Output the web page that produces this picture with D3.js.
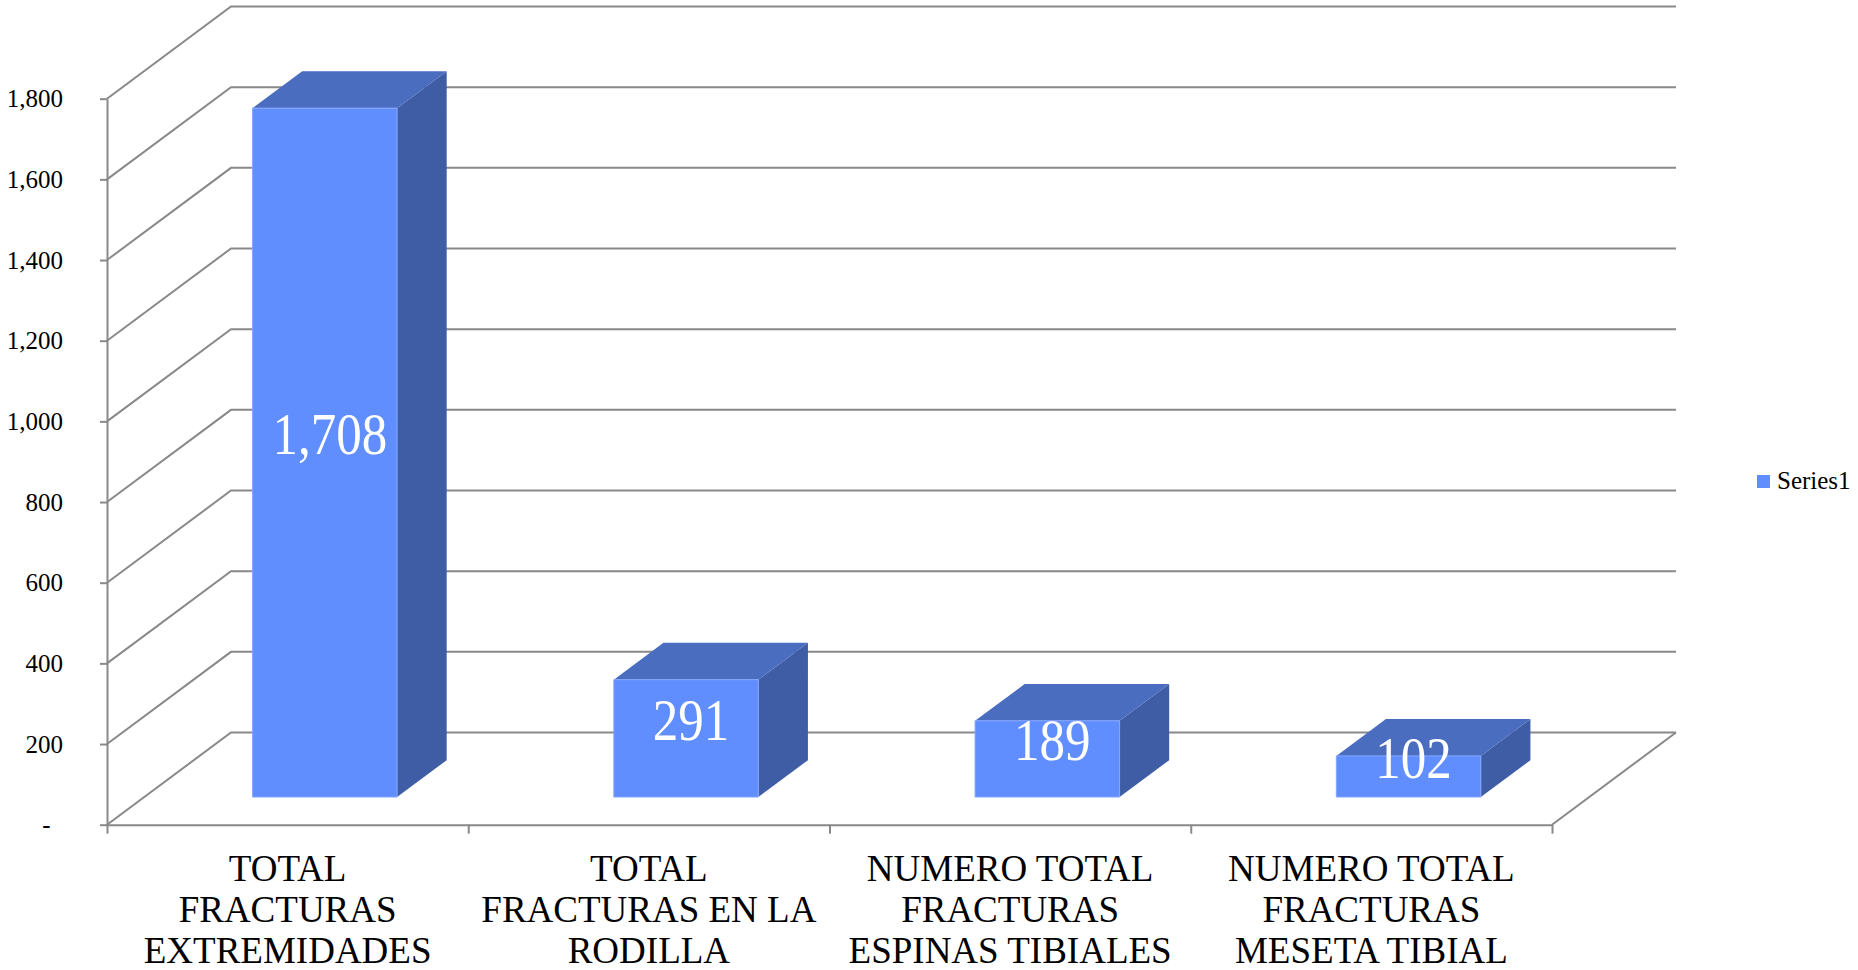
<!DOCTYPE html>
<html>
<head>
<meta charset="utf-8">
<script src="https://cdn.jsdelivr.net/npm/d3@7"></script>
<style>
  html, body { margin: 0; padding: 0; background: #ffffff; }
  svg { display: block; }
  text { font-family: "Liberation Serif", "Times New Roman", serif; }
</style>
</head>
<body>
<svg id="chart" width="1858" height="970"></svg>
<script>
// ---- data ----
const categories = [
  "TOTAL FRACTURAS EXTREMIDADES",
  "TOTAL FRACTURAS EN LA RODILLA",
  "NUMERO TOTAL FRACTURAS ESPINAS TIBIALES",
  "NUMERO TOTAL FRACTURAS MESETA TIBIAL"
];
const categoryLines = [
  ["TOTAL", "FRACTURAS", "EXTREMIDADES"],
  ["TOTAL", "FRACTURAS EN LA", "RODILLA"],
  ["NUMERO TOTAL", "FRACTURAS", "ESPINAS TIBIALES"],
  ["NUMERO TOTAL", "FRACTURAS", "MESETA TIBIAL"]
];
const seriesName = "Series1";
const values = [1708, 291, 189, 102];
const yTicks = [0, 200, 400, 600, 800, 1000, 1200, 1400, 1600, 1800];

// ---- layout ----
const svg = d3.select("#chart");
const X0 = 107, X1 = 1552;          // front floor edge
const DX = 124, DY = -92.2;         // full wall depth vector
const gridColor = "#898989";
const colFront = "#608EFF", colTop = "#4A6DC0", colSide = "#3E5DA5";

const y = d3.scaleLinear().domain([0, 1800]).range([824.7, 98.7]);
const xBand = d3.scaleBand().domain(categories).range([X0, X1])
  .paddingInner(0.6).paddingOuter(0.3);
const xCat = d3.scaleBand().domain(categories).range([X0, X1]).padding(0);
const xEdge = d3.scaleLinear().domain([0, categories.length]).range([X0, X1]);

const depthFront = 0.3, depthBack = 0.7;
const P = (x, yy, d) => [x + d * DX, yy + d * DY];

// ---- walls / gridlines ----
const grid = svg.append("g").attr("fill", "none").attr("stroke", gridColor).attr("stroke-width", 2);
yTicks.forEach(t => {
  const a = [X0, y(t)], b = P(X0, y(t), 1), c = P(X1, y(t), 1);
  grid.append("path").attr("d", d3.line()([a, b, c]));
});
// floor right edge
grid.append("path").attr("d", d3.line()([[X1, y(0)], P(X1, y(0), 1)]));

// ---- axes ----
const yAxis = d3.axisLeft(y).tickValues(yTicks).tickSize(7).tickSizeOuter(0).tickPadding(37)
  .tickFormat(v => v === 0 ? "-\u00a0\u00a0" : d3.format(",")(v));
const gy = svg.append("g").attr("transform", `translate(${X0},0)`).call(yAxis);
gy.select(".domain").attr("stroke", gridColor).attr("stroke-width", 2);
gy.selectAll(".tick line").attr("stroke", gridColor).attr("stroke-width", 2);
gy.selectAll(".tick text").attr("font-size", 25).attr("fill", "#000")
  .attr("font-family", "Liberation Serif, serif");

const xAxis = d3.axisBottom(xEdge).tickValues(d3.range(categories.length + 1))
  .tickSize(9).tickSizeOuter(0).tickFormat("");
const gx = svg.append("g").attr("transform", `translate(0,${y(0)})`).call(xAxis);
gx.select(".domain").attr("stroke", gridColor).attr("stroke-width", 2);
gx.selectAll(".tick line").attr("stroke", gridColor).attr("stroke-width", 2);

// category labels
const catG = svg.append("g");
categories.forEach((c, i) => {
  const cx = xCat(c) + xCat.bandwidth() / 2;
  const t = catG.append("text").attr("text-anchor", "middle").attr("font-size", 37).attr("fill", "#000");
  categoryLines[i].forEach((ln, j) => {
    t.append("tspan").attr("x", cx).attr("y", 881 + j * 41).text(ln);
  });
});

// ---- 3D bars ----
const bars = svg.append("g");
values.forEach((v, i) => {
  const c = categories[i];
  const xl = xBand(c), xr = xBand(c) + xBand.bandwidth();
  const y0 = y(0), y1 = y(v);
  const fbl = P(xl, y0, depthFront), fbr = P(xr, y0, depthFront);
  const ftl = P(xl, y1, depthFront), ftr = P(xr, y1, depthFront);
  const btl = P(xl, y1, depthBack), btr = P(xr, y1, depthBack);
  const bbr = P(xr, y0, depthBack);
  const g = bars.append("g");
  g.append("path").attr("d", d3.line()([fbr, ftr, btr, bbr]) + "Z").attr("fill", colSide);
  g.append("path").attr("d", d3.line()([ftl, ftr, btr, btl]) + "Z").attr("fill", colTop);
  g.append("path").attr("d", d3.line()([fbl, fbr, ftr, ftl]) + "Z").attr("fill", colFront)
    .attr("stroke", "#86A6FF").attr("stroke-width", 1);
  // data label
  const lx = (fbl[0] + fbr[0]) / 2 + 5;
  const ly = (fbl[1] + btl[1]) / 2;
  g.append("g").attr("transform", `translate(${lx},${ly}) scale(1,1.14)`)
    .append("text").attr("x", 0).attr("y", 0).attr("text-anchor", "middle")
    .attr("dominant-baseline", "central").attr("font-size", 51).attr("fill", "#fff")
    .text(d3.format(",")(v));
});

// ---- legend ----
const lg = svg.append("g").attr("transform", "translate(1757,475)");
lg.append("rect").attr("width", 13).attr("height", 13).attr("fill", colFront);
lg.append("text").attr("x", 20).attr("y", 14).attr("font-size", 25).attr("fill", "#000").text(seriesName);
</script>
</body>
</html>
